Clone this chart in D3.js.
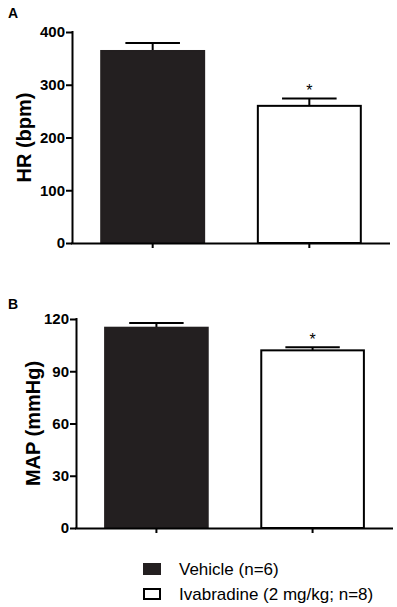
<!DOCTYPE html>
<html>
<head>
<meta charset="utf-8">
<script src="https://cdn.jsdelivr.net/npm/d3@7"></script>
<style>
  body { margin: 0; background: #fff; }
  svg { display: block; font-family: Arial, "Liberation Sans", sans-serif; }
</style>
</head>
<body>
<svg id="chart" width="397" height="607"></svg>
<script>
// data
const groups = ["Vehicle (n=6)", "Ivabradine (2 mg/kg; n=8)"];
const hrMean = [364, 260];
const hrSem = [15, 14];
const mapMean = [115, 102];
const mapSem = [2.7, 1.8];
const significant = [false, true];
const hrTicks = [0, 100, 200, 300, 400];
const mapTicks = [0, 30, 60, 90, 120];

const dark = "#231f20";
const fills = [dark, "#fff"];

const svg = d3.select("#chart");

function panel({ letter, letterY, label, labelX, mean, sem, ticks, top, bottom, left, right }) {
  const g = svg.append("g");

  const x = d3.scaleBand().domain(groups).range([left, right])
    .paddingInner(0.33).paddingOuter(0.18);
  const y = d3.scaleLinear().domain([0, d3.max(ticks)]).range([bottom, top]);

  const rows = groups.map((name, i) => ({ name, mean: mean[i], sem: sem[i], fill: fills[i], sig: significant[i] }));

  // upper error whisker + cap
  const capW = x.bandwidth() * 0.52;
  const err = g.append("g").attr("stroke", "#000").attr("stroke-width", 2);
  err.selectAll("line.v").data(rows).join("line")
    .attr("class", "v")
    .attr("x1", d => x(d.name) + x.bandwidth() / 2)
    .attr("x2", d => x(d.name) + x.bandwidth() / 2)
    .attr("y1", d => y(d.mean))
    .attr("y2", d => y(d.mean + d.sem));
  err.selectAll("line.cap").data(rows).join("line")
    .attr("class", "cap")
    .attr("x1", d => x(d.name) + x.bandwidth() / 2 - capW / 2)
    .attr("x2", d => x(d.name) + x.bandwidth() / 2 + capW / 2)
    .attr("y1", d => y(d.mean + d.sem))
    .attr("y2", d => y(d.mean + d.sem));

  // bars
  g.append("g").selectAll("rect").data(rows).join("rect")
    .attr("x", d => x(d.name) + 1)
    .attr("y", d => y(d.mean))
    .attr("width", x.bandwidth() - 2)
    .attr("height", d => y(0) - y(d.mean))
    .attr("fill", d => d.fill)
    .attr("stroke", d => d.fill === "#fff" ? "#000" : d.fill)
    .attr("stroke-width", 2);

  // significance stars
  g.append("g").selectAll("text").data(rows.filter(d => d.sig)).join("text")
    .attr("x", d => x(d.name) + x.bandwidth() / 2)
    .attr("y", d => y(d.mean + d.sem) - 2)
    .attr("text-anchor", "middle")
    .attr("font-size", 16)
    .text("*");

  // axes
  const yAxis = g.append("g")
    .attr("transform", `translate(${left},0)`)
    .call(d3.axisLeft(y).tickValues(ticks).tickSize(6).tickSizeOuter(0).tickPadding(1));
  const xAxis = g.append("g")
    .attr("transform", `translate(0,${bottom})`)
    .call(d3.axisBottom(x).tickSize(5).tickSizeOuter(0).tickFormat(""));
  [yAxis, xAxis].forEach(a => {
    a.selectAll("path, line").attr("stroke", "#000").attr("stroke-width", 2);
  });
  xAxis.select(".domain").attr("d", `M${left - 1},0.5H${right}`);
  yAxis.select(".domain").attr("d", `M0.5,${top - 1}V${bottom + 1}`);
  yAxis.selectAll("text")
    .attr("font-family", "Arial, 'Liberation Sans', sans-serif")
    .attr("font-size", 15)
    .attr("font-weight", "bold")
    .attr("fill", "#000");

  // axis title
  g.append("text")
    .attr("transform", `translate(${labelX},${(top + bottom) / 2}) rotate(-90)`)
    .attr("text-anchor", "middle")
    .attr("font-size", 20)
    .attr("font-weight", "bold")
    .text(label);

  // panel letter
  g.append("text")
    .attr("x", 8)
    .attr("y", letterY)
    .attr("font-size", 14)
    .attr("font-weight", "bold")
    .text(letter);
}

panel({ letter: "A", letterY: 18, label: "HR (bpm)", labelX: 31, mean: hrMean, sem: hrSem,
  ticks: hrTicks, top: 32, bottom: 243, left: 72, right: 390 });
panel({ letter: "B", letterY: 309, label: "MAP (mmHg)", labelX: 40, mean: mapMean, sem: mapSem,
  ticks: mapTicks, top: 319, bottom: 528, left: 76, right: 393 });

// legend
const legend = svg.append("g").attr("transform", "translate(143,563)");
const item = legend.selectAll("g").data(groups).join("g")
  .attr("transform", (d, i) => `translate(0,${i * 25})`);
item.append("rect")
  .attr("x", 1).attr("y", 1)
  .attr("width", 16).attr("height", 10)
  .attr("fill", (d, i) => fills[i])
  .attr("stroke", (d, i) => i === 0 ? dark : "#000")
  .attr("stroke-width", 2);
item.append("text")
  .attr("x", 36).attr("y", 12)
  .attr("font-size", 17)
  .text(d => d);
</script>
</body>
</html>
